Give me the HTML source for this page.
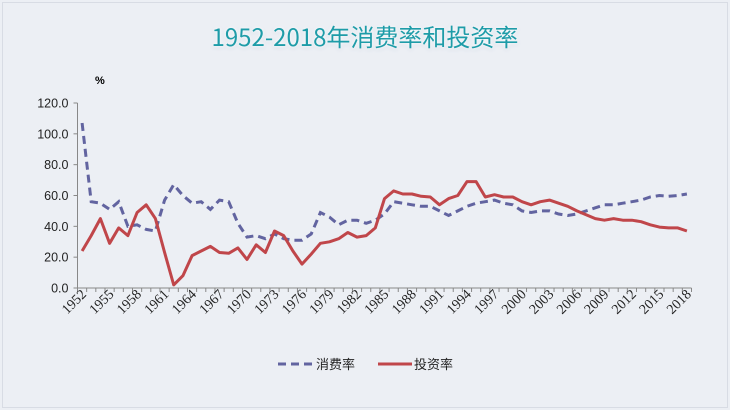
<!DOCTYPE html>
<html><head><meta charset="utf-8"><style>
html,body{margin:0;padding:0;}
body{width:730px;height:410px;background:#eceff4;overflow:hidden;position:relative;font-family:"Liberation Sans","Noto Sans CJK SC",sans-serif;}
.frame{position:absolute;left:2px;top:2px;width:724px;height:404px;border:1px solid #d8dce4;}
.title{position:absolute;left:0;width:730px;top:18px;text-align:center;font-size:24px;color:#1e9ca8;text-shadow:0 0 3px #fff,0 0 5px #fff,0 1px 4px #bcd;font-family:"Noto Sans CJK SC",sans-serif;}
</style></head><body>
<div class="frame"></div>
<div class="title">1952-2018年消费率和投资率</div>
<svg id="c" width="730" height="410" style="position:absolute;left:0;top:0" xmlns="http://www.w3.org/2000/svg"></svg>
<script>
var C=[107,56,55,51,56,40,41,38,37,57,67,60,55,56,51,57,56,42,33,34,32,35,32,31,31,35,49,46,41,44,44,42,44,48,56,55,54,53,53,50,47,50,53,55,56,57,55,54,50,49,50,50,48,47,48,50,52,54,54,55,56,57,59,60,59.5,60,61];
var I=[24,34,45,29,39,34,49,54,45,23,2,8,21,24,27,23,22.5,26,18.5,28,23,37,34,24,15.5,22,29,30,32,36,33,34,39,58,63,61,61,59.5,59,54,58,60,69,69,59,60.5,59,59,56,54,56,57,55,53,50,47.5,45,44,45,44,44,43,41,39.5,39,39,37];
var x0=77.5,x1=691.5,n=67,w=(x1-x0)/n,y0=288,k=185/120;
function X(i){return x0+w*(i+0.5)}function Y(v){return y0-v*k}
var s='';
s+='<text x="95" y="84" font-size="11" font-weight="bold" font-family="Liberation Sans,sans-serif">%</text>';
s+='<line x1="'+x0+'" y1="103" x2="'+x0+'" y2="'+y0+'" stroke="#888" stroke-width="1"/>';
s+='<line x1="'+x0+'" y1="'+y0+'" x2="'+x1+'" y2="'+y0+'" stroke="#888" stroke-width="1"/>';
for(var v=0;v<=120;v+=20){var y=Y(v);s+='<line x1="'+(x0-4)+'" y1="'+y+'" x2="'+x0+'" y2="'+y+'" stroke="#888"/>';
s+='<text x="'+(x0-9)+'" y="'+(y+4.5)+'" font-size="12.5" text-anchor="end" fill="#222">'+v.toFixed(1)+'</text>';}
for(var i=0;i<=n;i++){var x=x0+w*i;s+='<line x1="'+x+'" y1="'+y0+'" x2="'+x+'" y2="'+(y0+4)+'" stroke="#888"/>';}
for(var i=0;i<n;i+=3){var x=X(i)+5,y=y0+7;s+='<text transform="translate('+x+','+y+') rotate(-45)" font-size="14" text-anchor="end" font-family="Liberation Serif,serif" fill="#222">'+(1952+i)+'</text>';}
function P(a){return a.map(function(v,i){return X(i).toFixed(1)+','+Y(v).toFixed(1)}).join(' ')}
s+='<polyline points="'+P(C)+'" fill="none" stroke="#6264a0" stroke-width="3" stroke-dasharray="8,5"/>';
s+='<polyline points="'+P(I)+'" fill="none" stroke="#c0464a" stroke-width="3" stroke-linejoin="round"/>';
s+='<line x1="278" y1="364" x2="312" y2="364" stroke="#6264a0" stroke-width="3" stroke-dasharray="8,5"/>';
s+='<text x="316" y="369" font-size="13" fill="#222" font-family="Noto Sans CJK SC,sans-serif">消费率</text>';
s+='<line x1="378" y1="364" x2="412" y2="364" stroke="#c0464a" stroke-width="3"/>';
s+='<text x="414" y="369" font-size="13" fill="#222" font-family="Noto Sans CJK SC,sans-serif">投资率</text>';
document.getElementById('c').innerHTML=s;
</script>
</body></html>
